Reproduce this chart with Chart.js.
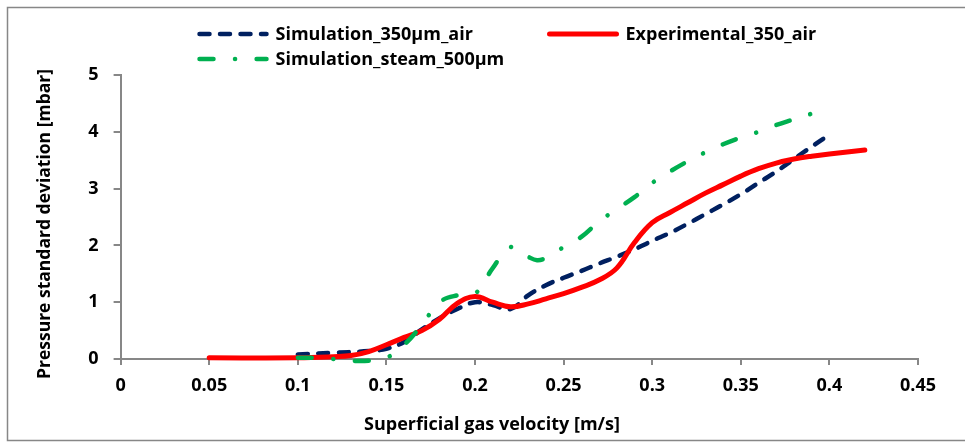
<!DOCTYPE html>
<html>
<head>
<meta charset="utf-8">
<script src="https://cdn.jsdelivr.net/npm/chart.js@4.4.0/dist/chart.umd.min.js"></script>
<style>
  body { margin: 0; background: #fff; }
  #wrap { width: 965px; height: 444px; }
</style>
</head>
<body>
<div id="wrap"><canvas id="myChart" width="965" height="444"></canvas></div>
<script>
// series
const simAirX = [0.1, 0.12, 0.14, 0.15, 0.16, 0.17, 0.18, 0.19, 0.2, 0.21, 0.22, 0.23, 0.24, 0.25, 0.26, 0.27, 0.28, 0.29, 0.3, 0.31, 0.32, 0.33, 0.34, 0.35, 0.36, 0.37, 0.38, 0.39, 0.4];
const simAirY = [0.08, 0.11, 0.14, 0.18, 0.3, 0.52, 0.72, 0.88, 1.0, 0.95, 0.88, 1.12, 1.3, 1.43, 1.55, 1.68, 1.8, 1.93, 2.08, 2.22, 2.38, 2.55, 2.72, 2.9, 3.1, 3.3, 3.52, 3.74, 3.95];

const expAirX = [0.05, 0.1, 0.12, 0.13, 0.14, 0.15, 0.16, 0.17, 0.18, 0.19, 0.2, 0.21, 0.22, 0.23, 0.24, 0.25, 0.26, 0.27, 0.28, 0.29, 0.3, 0.31, 0.32, 0.33, 0.34, 0.35, 0.36, 0.37, 0.38, 0.39, 0.4, 0.42];
const expAirY = [0.02, 0.02, 0.04, 0.06, 0.13, 0.25, 0.38, 0.5, 0.7, 0.98, 1.1, 1.0, 0.92, 0.97, 1.06, 1.15, 1.26, 1.39, 1.6, 2.05, 2.4, 2.58, 2.75, 2.92, 3.07, 3.22, 3.35, 3.45, 3.52, 3.57, 3.61, 3.68];

const simSteamX = [0.1, 0.11, 0.12, 0.13, 0.14, 0.15, 0.16, 0.17, 0.18, 0.19, 0.2, 0.21, 0.22, 0.23, 0.235, 0.24, 0.25, 0.26, 0.27, 0.28, 0.29, 0.3, 0.31, 0.32, 0.33, 0.34, 0.35, 0.36, 0.37, 0.38, 0.39, 0.4];
const simSteamY = [0.02, 0.02, 0.0, -0.03, -0.03, 0.02, 0.25, 0.6, 1.0, 1.12, 1.15, 1.6, 1.97, 1.8, 1.74, 1.78, 1.97, 2.15, 2.42, 2.64, 2.85, 3.1, 3.3, 3.48, 3.64, 3.78, 3.9, 4.0, 4.12, 4.22, 4.32, 4.44];

const seriesNames = ['Simulation_350µm_air', 'Experimental_350_air', 'Simulation_steam_500µm'];
const xTickLabels = ['0', '0.05', '0.1', '0.15', '0.2', '0.25', '0.3', '0.35', '0.4', '0.45'];
const yTickLabels = ['0', '1', '2', '3', '4', '5'];
const xTitle = 'Superficial gas velocity [m/s]';
const yTitle = 'Pressure standard deviation [mbar]';

function pairs(xs, ys) {
  return xs.map(function (x, i) { return { x: x, y: ys[i] }; });
}

const FONT = '"Open Sans", sans-serif';
const GREY = '#878787';

// legend + axis titles + frame, drawn by hand to sit where the original has them
const extras = {
  id: 'extras',
  beforeDraw(chart) {
    const c = chart.ctx;
    c.save();
    c.strokeStyle = GREY;
    c.lineWidth = 1.5;
    c.strokeRect(7.5, 7.5, 970, 433);
    c.restore();
  },
  afterDraw(chart) {
    const c = chart.ctx;
    const ds = chart.data.datasets;
    const items = [
      { i: 0, x: 199.5, y: 34 },
      { i: 1, x: 549.5, y: 34 },
      { i: 2, x: 199.5, y: 59 }
    ];
    c.save();
    items.forEach(function (it) {
      const d = ds[it.i];
      c.beginPath();
      c.setLineDash(d.borderDash || []);
      c.lineCap = 'round';
      c.lineWidth = d.borderWidth;
      c.strokeStyle = d.borderColor;
      c.moveTo(it.x, it.y);
      c.lineTo(it.x + 67, it.y);
      c.stroke();
      c.setLineDash([]);
      c.fillStyle = '#000';
      c.font = 'bold 18px ' + FONT;
      c.textBaseline = 'middle';
      c.textAlign = 'left';
      c.fillText(d.label, it.x + 76, it.y + 1);
    });

    c.textAlign = 'center';
    c.textBaseline = 'middle';
    c.font = 'bold 18px ' + FONT;
    c.fillText(xTitle, 492, 425);
    c.font = 'bold 17.5px ' + FONT;
    c.translate(45, 224);
    c.rotate(-Math.PI / 2);
    c.fillText(yTitle, 0, 0);
    c.restore();
  }
};

var ctx = document.getElementById('myChart').getContext('2d');
var myChart = new Chart(ctx, {
  type: 'line',
  data: {
    datasets: [
      {
        label: seriesNames[0],
        data: pairs(simAirX, simAirY),
        borderColor: '#002060',
        borderWidth: 4.5,
        borderDash: [10, 10.5],
        borderCapStyle: 'round',
        tension: 0.4,
        pointRadius: 0,
        clip: 8,
        order: 2
      },
      {
        label: seriesNames[1],
        data: pairs(expAirX, expAirY),
        borderColor: '#ff0000',
        borderWidth: 5,
        borderCapStyle: 'round',
        tension: 0.4,
        pointRadius: 0,
        clip: 8,
        order: 1
      },
      {
        label: seriesNames[2],
        data: pairs(simSteamX, simSteamY),
        borderColor: '#00b050',
        borderWidth: 4.5,
        borderDash: [14, 21.5, 0.1, 21.5],
        borderCapStyle: 'round',
        tension: 0.4,
        pointRadius: 0,
        clip: 8,
        order: 0
      }
    ]
  },
  options: {
    responsive: false,
    animation: false,
    layout: { padding: { top: 75, right: 47, left: 0, bottom: 0 } },
    plugins: {
      legend: { display: false },
      tooltip: { enabled: false }
    },
    scales: {
      x: {
        type: 'linear',
        min: 0,
        max: 0.45,
        afterFit: function (s) { s.height = 85; },
        border: { color: GREY, width: 2 },
        grid: { drawOnChartArea: false, color: GREY, lineWidth: 2, tickLength: 6 },
        ticks: {
          stepSize: 0.05,
          padding: 10,
          color: '#000',
          font: { family: FONT, size: 18, weight: 'bold' },
          maxRotation: 0,
          callback: function (v, i) { return xTickLabels[i]; }
        }
      },
      y: {
        min: 0,
        max: 5,
        afterFit: function (s) { s.width = 120.6; },
        border: { color: GREY, width: 2 },
        grid: { drawOnChartArea: false, color: GREY, lineWidth: 2, tickLength: 7 },
        ticks: {
          stepSize: 1,
          padding: 15,
          color: '#000',
          font: { family: FONT, size: 18, weight: 'bold' },
          callback: function (v, i) { return yTickLabels[i]; }
        }
      }
    }
  },
  plugins: [extras]
});
</script>
</body>
</html>
